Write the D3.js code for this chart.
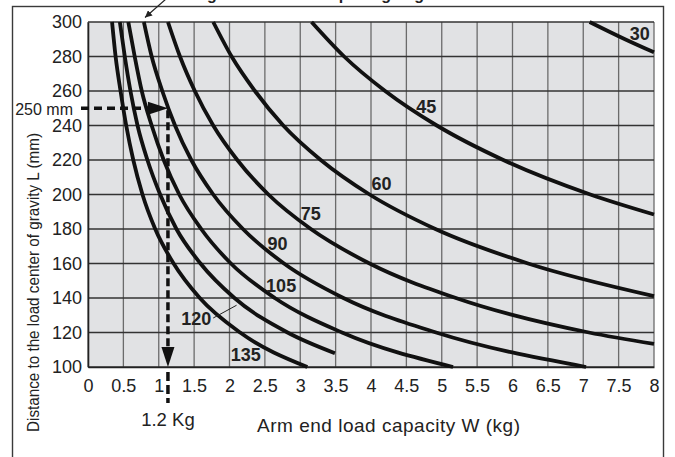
<!DOCTYPE html>
<html>
<head>
<meta charset="utf-8">
<script src="https://cdn.jsdelivr.net/npm/d3@7"></script>
<style>
  html, body { margin: 0; padding: 0; background: #ffffff; }
  svg { display: block; }
  text { font-family: "Liberation Sans", Arial, Helvetica, sans-serif; }
</style>
</head>
<body>
<svg id="chart" width="675" height="457"></svg>
<script>
// ---------- data ----------
const xTicks = [0, 0.5, 1, 1.5, 2, 2.5, 3, 3.5, 4, 4.5, 5, 5.5, 6, 6.5, 7, 7.5, 8];
const xTickLabels = ["0", "0.5", "1", "1.5", "2", "2.5", "3", "3.5", "4", "4.5", "5", "5.5", "6", "6.5", "7", "7.5", "8"];
const yTicks = [100, 120, 140, 160, 180, 200, 220, 240, 260, 280, 300];
const yTickLabels = ["100", "120", "140", "160", "180", "200", "220", "240", "260", "280", "300"];

const angles = ["30", "45", "60", "75", "90", "105", "120", "135"];
// each curve: [W (kg), L (mm)]
const curve30 = [[7.09, 300], [7.59, 290], [8.0, 282.4]];
const curve45 = [[3.16, 300], [3.62, 280], [4.20, 260], [4.93, 240], [5.87, 220], [7.10, 200], [8.0, 188.4]];
const curve60 = [[1.77, 300], [2.03, 280], [2.36, 260], [2.76, 240], [3.29, 220], [3.98, 200], [4.91, 180], [6.22, 160], [8.0, 141.1]];
const curve75 = [[1.13, 300], [1.30, 280], [1.51, 260], [1.77, 240], [2.11, 220], [2.55, 200], [3.15, 180], [3.98, 160], [5.20, 140], [7.08, 120], [8.0, 113.4]];
const curve90 = [[0.79, 300], [0.90, 280], [1.05, 260], [1.23, 240], [1.46, 220], [1.77, 200], [2.19, 180], [2.77, 160], [3.61, 140], [4.92, 120], [7.04, 100]];
const curve105 = [[0.57, 300], [0.66, 280], [0.76, 260], [0.90, 240], [1.07, 220], [1.29, 200], [1.60, 180], [2.02, 160], [2.64, 140], [3.59, 120], [5.16, 100]];
const curve120 = [[0.45, 300], [0.52, 280], [0.60, 260], [0.70, 240], [0.84, 220], [1.02, 200], [1.25, 180], [1.59, 160], [2.07, 140], [2.82, 120], [3.49, 108]];
const curve135 = [[0.34, 300], [0.39, 280], [0.46, 260], [0.54, 240], [0.64, 220], [0.77, 200], [0.95, 180], [1.21, 160], [1.58, 140], [2.15, 120], [3.10, 100]];
const curves = [curve30, curve45, curve60, curve75, curve90, curve105, curve120, curve135];

// label anchor points (centre of the number) in data units
const labelW = [7.80, 4.78, 4.15, 3.15, 2.68, 2.73, 1.53, 2.23];
const labelL = [293.3, 251.0, 206.4, 189.0, 171.6, 147.5, 128.1, 107.2];
// leader line for the "120" label
const leader120 = [[1.77, 128.4], [2.10, 135.8]];

// example reading
const exampleL = 250;
const exampleW = 1.13;
const exampleLText = "250 mm";
const exampleWText = "1.2 Kg";

const xTitle = "Arm end load capacity  W (kg)";
const yTitle = "Distance to the load center of gravity  L (mm)";
const topTitle = "Rotating direction and Opening angle";

// ---------- layout ----------
const svg = d3.select("#chart");
const x = d3.scaleLinear().domain([0, 8]).range([88, 654]);
const y = d3.scaleLinear().domain([100, 300]).range([367, 22]);

// outer frame
svg.append("rect")
  .attr("x", 12.5).attr("y", 6.5)
  .attr("width", 651).attr("height", 470)
  .attr("fill", "none").attr("stroke", "#3a3a3a").attr("stroke-width", 1.4);

// top (clipped) title and its arrow
svg.append("text")
  .attr("x", 152).attr("y", -0.5)
  .attr("font-size", 16).attr("font-weight", "bold").attr("fill", "#222")
  .text(topTitle);
svg.append("defs").append("marker")
  .attr("id", "smallHead").attr("viewBox", "0 0 10 10")
  .attr("refX", 10).attr("refY", 5)
  .attr("markerWidth", 7).attr("markerHeight", 7)
  .attr("markerUnits", "userSpaceOnUse")
  .attr("orient", "auto")
  .append("path").attr("d", "M0,0 L10,5 L0,10 Z").attr("fill", "#222");
svg.append("line")
  .attr("x1", 166).attr("y1", -1).attr("x2", 145).attr("y2", 17.5)
  .attr("stroke", "#222").attr("stroke-width", 1.2)
  .attr("marker-end", "url(#smallHead)");

// plot background
svg.append("rect")
  .attr("x", x(0)).attr("y", y(300))
  .attr("width", x(8) - x(0)).attr("height", y(100) - y(300))
  .attr("fill", "#e1e2e4");

// grid
const grid = svg.append("g");
grid.selectAll("line.v").data(xTicks).enter().append("line")
  .attr("class", "v")
  .attr("x1", d => x(d)).attr("x2", d => x(d))
  .attr("y1", y(300)).attr("y2", y(100))
  .attr("stroke", "#6b6b6b").attr("stroke-width", 1.3);
grid.selectAll("line.h").data(yTicks).enter().append("line")
  .attr("class", "h")
  .attr("x1", x(0)).attr("x2", x(8))
  .attr("y1", d => y(d)).attr("y2", d => y(d))
  .attr("stroke", "#333").attr("stroke-width", 1.3);

// axes (tick labels only, via d3 axes)
const xAxis = d3.axisBottom(x).tickValues(xTicks).tickSize(0).tickPadding(12)
  .tickFormat((d, i) => xTickLabels[i]);
const gx = svg.append("g").attr("transform", `translate(0,${y(100)})`).call(xAxis);
gx.select(".domain").attr("stroke", "#222").attr("stroke-width", 1.6);
gx.selectAll("text").attr("font-size", 18).attr("fill", "#222")
  .attr("font-family", "'Liberation Sans', Arial, sans-serif");

const yAxis = d3.axisLeft(y).tickValues(yTicks).tickSize(0).tickPadding(6)
  .tickFormat((d, i) => yTickLabels[i]);
const gy = svg.append("g").attr("transform", `translate(${x(0)},0)`).call(yAxis);
gy.select(".domain").attr("stroke", "#222").attr("stroke-width", 1.6);
gy.selectAll("text").attr("font-size", 18).attr("fill", "#222")
  .attr("font-family", "'Liberation Sans', Arial, sans-serif");

// curves
const line = d3.line().x(d => x(d[0])).y(d => y(d[1])).curve(d3.curveMonotoneX);
svg.append("g").selectAll("path").data(curves).enter().append("path")
  .attr("d", line)
  .attr("fill", "none").attr("stroke", "#111").attr("stroke-width", 3.8);

// curve labels
svg.append("g").selectAll("text").data(angles).enter().append("text")
  .attr("x", (d, i) => x(labelW[i]))
  .attr("y", (d, i) => y(labelL[i]) + 6.5)
  .attr("text-anchor", "middle")
  .attr("font-family", "'Liberation Sans Narrow', 'Arial Narrow', 'Liberation Sans', sans-serif")
  .attr("font-weight", "bold").attr("font-size", 18).attr("fill", "#222")
  .text(d => d);
svg.append("line")
  .attr("x1", x(leader120[0][0])).attr("y1", y(leader120[0][1]))
  .attr("x2", x(leader120[1][0])).attr("y2", y(leader120[1][1]))
  .attr("stroke", "#222").attr("stroke-width", 1);

// example dashed arrows
const ex = x(exampleW), ey = y(exampleL);
svg.append("line")
  .attr("x1", 81).attr("y1", ey).attr("x2", ex - 18).attr("y2", ey)
  .attr("stroke", "#111").attr("stroke-width", 3.5).attr("stroke-dasharray", "8,5");
svg.append("path")
  .attr("d", `M${ex},${ey} L${ex - 20},${ey - 6.5} L${ex - 20},${ey + 6.5} Z`)
  .attr("fill", "#111");
svg.append("line")
  .attr("x1", ex).attr("y1", ey + 2).attr("x2", ex).attr("y2", y(100) - 18)
  .attr("stroke", "#111").attr("stroke-width", 3.5).attr("stroke-dasharray", "8,4");
svg.append("path")
  .attr("d", `M${ex},${y(100)} L${ex - 6.5},${y(100) - 20} L${ex + 6.5},${y(100) - 20} Z`)
  .attr("fill", "#111");
svg.append("line")
  .attr("x1", ex).attr("y1", y(100) + 5).attr("x2", ex).attr("y2", y(100) + 36)
  .attr("stroke", "#111").attr("stroke-width", 3.5).attr("stroke-dasharray", "9,4");

svg.append("text")
  .attr("x", 73).attr("y", ey + 6.5)
  .attr("text-anchor", "end").attr("font-size", 16).attr("fill", "#222")
  .text(exampleLText);
svg.append("text")
  .attr("x", ex).attr("y", 426)
  .attr("text-anchor", "middle").attr("font-size", 18.5).attr("fill", "#222")
  .text(exampleWText);

// axis titles
svg.append("text")
  .attr("x", 257).attr("y", 431.5)
  .attr("font-size", 19).attr("fill", "#222")
  .attr("textLength", 263).attr("lengthAdjust", "spacing")
  .text(xTitle);
svg.append("text")
  .attr("transform", "translate(39,432) rotate(-90)")
  .attr("font-size", 17).attr("fill", "#222")
  .attr("textLength", 299).attr("lengthAdjust", "spacingAndGlyphs")
  .text(yTitle);
</script>
</body>
</html>
